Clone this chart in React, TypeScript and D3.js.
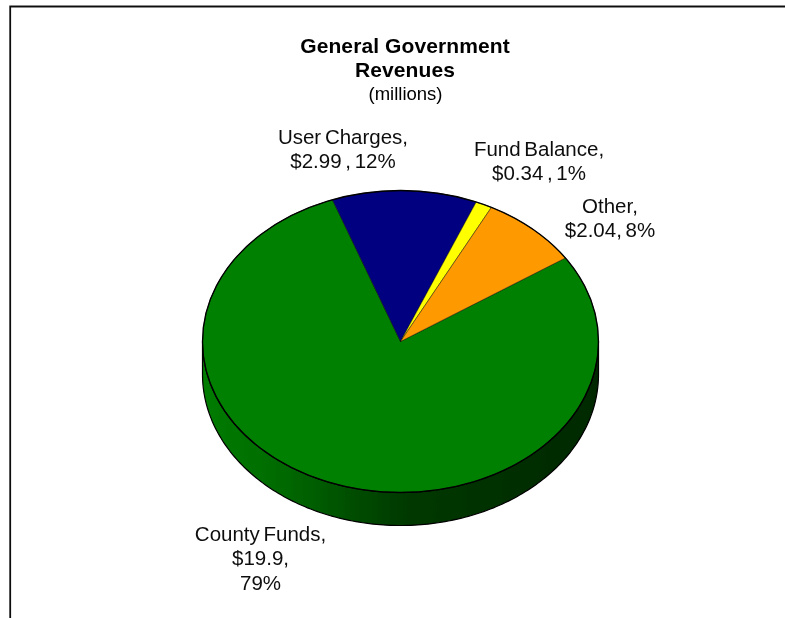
import React from "react";
import * as d3 from "d3";

const categories = ["County Funds", "User Charges", "Fund Balance", "Other"];
const values = [19.9, 2.99, 0.34, 2.04];
const colors = ["#008000", "#000080", "#FFFF00", "#FF9900"];
const labelLines = [
  ["County Funds,", "$19.9,", "79%"],
  ["User Charges,", "$2.99 , 12%"],
  ["Fund Balance,", "$0.34 , 1%"],
  ["Other,", "$2.04, 8%"],
];
const labelX = [260.5, 343, 539, 610];
const labelY = [541, 144, 156, 213];
const titleLines = ["General Government", "Revenues"];

const W = 785, H = 618;
const cx = 400.5, cy = 341.5, rx = 198, ry = 151, depth = 33;
const start = (56.4 * Math.PI) / 180;
const font = "'Liberation Sans', Arial, sans-serif";

export default function App() {
  const slices = d3.pie<number>().sort(null).startAngle(start).endAngle(start + 2 * Math.PI)(values);
  const arc = d3.arc<d3.PieArcDatum<number>>().innerRadius(0).outerRadius(rx);
  const k = ry / rx;
  const wall = d3.path();
  const n = 180;
  const pts: [number, number][] = d3.range(n + 1).map((i) => {
    const t = (Math.PI * i) / n;
    return [cx + rx * Math.cos(t), cy + ry * Math.sin(t)];
  });
  pts.forEach(([x, y], i) => (i ? wall.lineTo(x, y) : wall.moveTo(x, y)));
  [...pts].reverse().forEach(([x, y]) => wall.lineTo(x, y + depth));
  wall.closePath();

  return (
    <svg width={W} height={H} viewBox={`0 0 ${W} ${H}`} style={{ position: "absolute", left: 0, top: 0 }} fontFamily={font}>
      <defs>
        <linearGradient id="wall" gradientUnits="userSpaceOnUse" x1={cx - rx} x2={cx + rx} y1={0} y2={0}>
          <stop offset="0" stopColor="#007c00" />
          <stop offset="0.2" stopColor="#006a00" />
          <stop offset="0.5" stopColor="#003a00" />
          <stop offset="0.75" stopColor="#003000" />
          <stop offset="1" stopColor="#002800" />
        </linearGradient>
        <filter id="soft" x="-5%" y="-5%" width="110%" height="110%">
          <feGaussianBlur stdDeviation="0.35" />
        </filter>
      </defs>
      <rect width={W} height={H} fill="#fff" />
      <g filter="url(#soft)">
        <path d={`M10.2,${H}V6.5H${W}`} fill="none" stroke="#111" strokeWidth={1.8} />

        <path d={wall.toString()} fill="url(#wall)" stroke="#000" strokeWidth={1.2} />
        <g transform={`translate(${cx},${cy}) scale(1,${k})`}>
          {slices.map((s, i) => (
            <path key={categories[i]} d={arc(s) ?? ""} fill={colors[i]} stroke="#000" strokeOpacity={0.45} strokeWidth={1} vectorEffect="non-scaling-stroke" />
          ))}
        </g>
        <ellipse cx={cx} cy={cy} rx={rx} ry={ry} fill="none" stroke="#000" strokeWidth={1.3} />

        <g textAnchor="middle" fill="#000">
          {titleLines.map((t, i) => (
            <text key={t} x={405} y={52.5 + i * 24.5} fontSize={21} fontWeight="bold" letterSpacing={0.1}>{t}</text>
          ))}
          <text x={405.5} y={100} fontSize={18.5}>(millions)</text>
          {labelLines.map((lines, i) =>
            lines.map((l, j) => (
              <text key={l} x={labelX[i]} y={labelY[i] + j * 24.3} fontSize={20.5} wordSpacing={-2} fill="#111">{l}</text>
            ))
          )}
        </g>
      </g>
    </svg>
  );
}
